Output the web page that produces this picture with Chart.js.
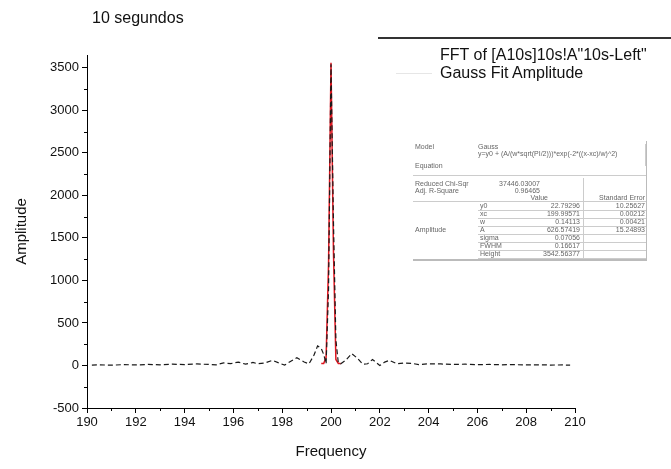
<!DOCTYPE html>
<html>
<head>
<meta charset="utf-8">
<script src="https://cdn.jsdelivr.net/npm/chart.js@4.4.0/dist/chart.umd.min.js"></script>
<style>
  body { margin: 0; background: #fff; font-family: "Liberation Sans", Arial, sans-serif; }
  #wrap { position: relative; width: 671px; height: 469px; }
  #title { position: absolute; left: 92px; top: 9px; font-size: 16px; color: #111; }
  #legendLine { position: absolute; left: 378px; top: 37px; width: 293px; border-top: 2px solid #333; }
  .leg { position: absolute; left: 440px; font-size: 16px; color: #111; white-space: nowrap; line-height: 18px; }
  .legSym { position: absolute; left: 396px; width: 36px; border-top: 1px solid #e6e6e6; }
  #fitBox { position: absolute; left: 413px; top: 141px; width: 233px; height: 118px;
            border-right: 1px solid #bbb; border-bottom: 2px solid #bbb; }
  .t { position: absolute; font-size: 7px; line-height: 8px; color: #666; white-space: nowrap; }
  .r { text-align: right; }
  .hl { position: absolute; height: 0; border-top: 1px solid #ccc; }
  .vl { position: absolute; width: 0; border-left: 1px solid #ccc; }
</style>
</head>
<body>
<div id="wrap">
  <canvas id="chart" width="671" height="469"></canvas>
  <div id="title">10 segundos</div>
  <div id="legendLine"></div>
  <div class="leg" style="top:46px">FFT of [A10s]10s!A"10s-Left"</div>
  <div class="leg" style="top:64px">Gauss Fit Amplitude</div>
  <div class="legSym" style="top:73px"></div>

  <div id="fitBox"></div>
  <div class="t" style="left:415px;top:143px">Model</div>
  <div class="t" style="left:478px;top:143px">Gauss</div>
  <div class="t" style="left:478px;top:150px">y=y0 + (A/(w*sqrt(PI/2)))*exp(-2*((x-xc)/w)^2)</div>
  <div class="t" style="left:415px;top:162px">Equation</div>
  <div class="vl" style="left:645px;top:144px;height:22px"></div>
  <div class="hl" style="left:413px;top:175px;width:233px"></div>
  <div class="t" style="left:415px;top:180px">Reduced Chi-Sqr</div>
  <div class="t r" style="left:480px;top:180px;width:60px">37446.03007</div>
  <div class="t" style="left:415px;top:187px">Adj. R-Square</div>
  <div class="t r" style="left:480px;top:187px;width:60px">0.96465</div>
  <div class="vl" style="left:583px;top:178px;height:81px"></div>
  <div class="t r" style="left:500px;top:194px;width:48px">Value</div>
  <div class="t r" style="left:585px;top:194px;width:60px">Standard Error</div>
  <div class="hl" style="left:413px;top:201px;width:233px"></div>
  <div class="t" style="left:415px;top:226px">Amplitude</div>
  <div id="params"></div>
</div>

<script>
// FFT amplitude spectrum (black dashed)
const freq = [190.2, 190.5, 191.0, 191.5, 192.0, 192.5, 193.0, 193.5, 194.0, 194.5,
  195.0, 195.3, 195.6, 195.9, 196.2, 196.5, 196.8, 197.0, 197.3, 197.6,
  197.9, 198.1, 198.3, 198.6, 198.9, 199.1, 199.3, 199.45, 199.6, 199.7,
  199.8, 199.9, 200.0, 200.1, 200.2, 200.3, 200.4, 200.6, 200.85, 201.1,
  201.3, 201.5, 201.7, 202.0, 202.2, 202.4, 202.7, 203.0, 203.3, 203.6,
  204.0, 204.5, 205.0, 205.5, 206.0, 206.5, 207.0, 207.5, 208.0, 208.5,
  209.0, 209.5, 209.8];
const amplitude = [5, 8, 3, 10, 6, 12, 8, 15, 10, 18,
  12, 8, 30, 22, 40, 15, 35, 20, 30, 60,
  25, 5, 40, 90, 40, 20, 120, 230, 200, 130,
  20, 900, 3540, 1700, 300, 30, 20, 60, 140, 80,
  15, 20, 70, 0, 40, 60, 20, 30, 25, 10,
  20, 18, 12, 15, 10, 12, 8, 10, 6, 8,
  5, 6, 4];

// Gauss fit (red)
const fitFreq = [199.6, 199.7, 199.8, 199.9, 200.0, 200.1, 200.2, 200.3, 200.4];
const fitAmp = [23, 24, 95, 1200, 3560, 1350, 70, 23, 23];

// axis ticks
const yTicks = [-500, 0, 500, 1000, 1500, 2000, 2500, 3000, 3500];
const xMinorTicks = [191, 193, 195, 197, 199, 201, 203, 205, 207, 209];
const yMinorTicks = [-250, 250, 750, 1250, 1750, 2250, 2750, 3250];

// fit table values
const paramNames = ["y0", "xc", "w", "A", "sigma", "FWHM", "Height"];
const paramValues = ["22.79296", "199.99571", "0.14113", "626.57419", "0.07056", "0.16617", "3542.56377"];
const paramErrors = ["10.25627", "0.00212", "0.00421", "15.24893", "", "", ""];

// build the parameter rows of the fit table
const params = document.getElementById("params");
paramNames.forEach((name, i) => {
  const top = 202 + i * 8;
  params.innerHTML += `
    <div class="t" style="left:480px;top:${top}px">${name}</div>
    <div class="t r" style="left:520px;top:${top}px;width:60px">${paramValues[i]}</div>
    <div class="t r" style="left:585px;top:${top}px;width:60px">${paramErrors[i]}</div>
    <div class="hl" style="left:478px;top:${top + 8}px;width:168px"></div>
  `;
});

// -------------------------------
// minor ticks (Origin style)
// -------------------------------
const minorTicks = {
  id: "minorTicks",
  afterDraw(chart) {
    const { ctx } = chart;
    const x = chart.scales.x;
    const y = chart.scales.y;
    ctx.save();
    ctx.strokeStyle = "#000";
    ctx.lineWidth = 1;
    ctx.beginPath();
    xMinorTicks.forEach((v) => {
      const px = Math.round(x.getPixelForValue(v)) + 0.5;
      ctx.moveTo(px, x.top);
      ctx.lineTo(px, x.top + 3);
    });
    yMinorTicks.forEach((v) => {
      const py = Math.round(y.getPixelForValue(v)) + 0.5;
      ctx.moveTo(y.right, py);
      ctx.lineTo(y.right - 3, py);
    });
    ctx.stroke();
    ctx.restore();
  },
};

const tickFont = { family: "'Liberation Sans', Arial, sans-serif", size: 13 };
const titleFont = { family: "'Liberation Sans', Arial, sans-serif", size: 15 };

new Chart(document.getElementById("chart"), {
  type: "line",
  data: {
    datasets: [
      {
        label: 'FFT of [A10s]10s!A"10s-Left"',
        data: freq.map((f, i) => ({ x: f, y: amplitude[i] })),
        borderColor: "#1a1a1a",
        borderWidth: 1.2,
        borderDash: [5, 3],
        pointRadius: 0,
        tension: 0,
        order: 0,
      },
      {
        label: "Gauss Fit Amplitude",
        data: fitFreq.map((f, i) => ({ x: f, y: fitAmp[i] })),
        borderColor: "#e0141e",
        borderWidth: 1.5,
        pointRadius: 0,
        tension: 0,
        order: 1,
      },
    ],
  },
  options: {
    responsive: false,
    animation: false,
    layout: { padding: { top: 55, right: 96, left: 0, bottom: 0 } },
    plugins: { legend: { display: false }, tooltip: { enabled: false } },
    scales: {
      x: {
        type: "linear",
        min: 190,
        max: 210,
        ticks: { stepSize: 2, color: "#111", font: tickFont, padding: 2, maxRotation: 0,
                 callback: (v) => String(v) },
        grid: { drawOnChartArea: false, tickLength: 5, color: "#000" },
        border: { color: "#000", width: 1 },
        title: { display: true, text: "Frequency", color: "#111", font: titleFont,
                 padding: { top: 0, bottom: 8 } },
        afterFit: (scale) => { scale.height = 61; },
      },
      y: {
        min: -500,
        max: 3650,
        ticks: { color: "#111", font: tickFont, padding: 3,
                 callback: (v) => String(v) },
        afterBuildTicks: (scale) => {
          scale.ticks = yTicks.map((v) => ({ value: v }));
        },
        grid: { drawOnChartArea: false, tickLength: 5, color: "#000" },
        border: { color: "#000", width: 1 },
        title: { display: true, text: "Amplitude", color: "#111", font: titleFont,
                 padding: { top: 13, bottom: 0 } },
        afterFit: (scale) => { scale.width = 87; },
      },
    },
  },
  plugins: [minorTicks],
});
</script>
</body>
</html>
